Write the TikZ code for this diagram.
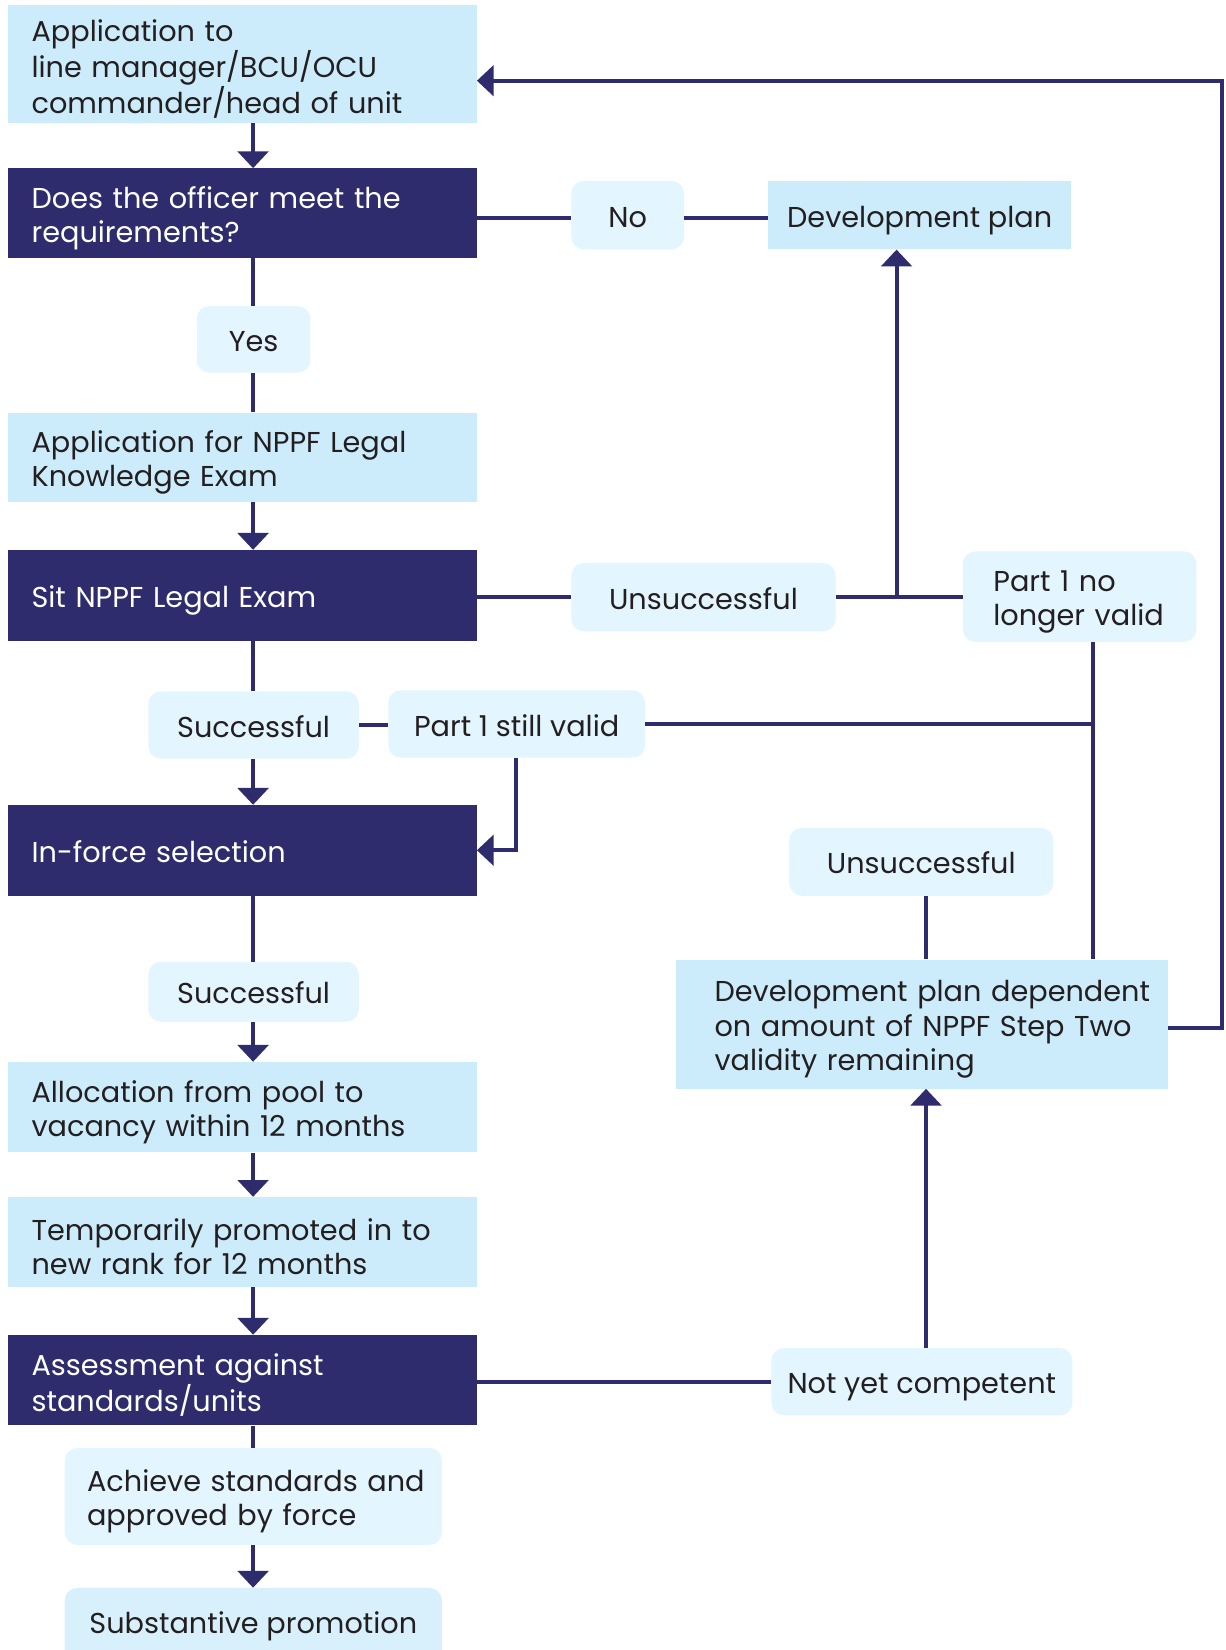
\documentclass[tikz,border=0pt]{standalone}
\usepackage{fontspec}
\setmainfont{Poppins}
\usetikzlibrary{arrows.meta}
\definecolor{navy}{HTML}{2F2C6E}
\definecolor{lblue}{HTML}{CCECFC}
\definecolor{pillc}{HTML}{E3F5FE}
\definecolor{pilld}{HTML}{D8F0FC}
\definecolor{txt}{HTML}{231F20}
\begin{document}
\begin{tikzpicture}[x=1pt,y=-1pt,
  every node/.style={font=\fontsize{27.3}{32.5}\selectfont, text=txt, inner ysep=0pt, inner xsep=0pt},
  one/.style={text height=23pt, text depth=0pt},
  multi/.style={text height=30pt},
  lbox/.style={rectangle, fill=lblue, align=left},
  lcol/.style={minimum width=445pt, text width=401pt},
  dbox/.style={rectangle, fill=navy, text=white, align=left, minimum width=445pt, text width=401pt},
  pillbox/.style={rectangle, rounded corners=12pt, fill=pillc, align=center},
  ln/.style={draw=navy, line width=3.8pt},
  arr/.style={ln, -{Triangle[width=29pt,length=16pt]}},
]
\useasboundingbox[fill=white] (0,0) rectangle (1165,1568);

% left column
\node[lbox, lcol, multi, minimum height=112pt] (n1) at (230.5,61) {Application to\\line manager/BCU/OCU\\commander/head of unit};
\node[dbox, multi, minimum height=85pt] (n2) at (230.5,202.5) {Does the officer meet the\\requirements?};
\node[pillbox, one, minimum width=108pt, minimum height=63pt] (yes) at (241,322.5) {Yes};
\node[lbox, lcol, multi, minimum height=85pt] (n3) at (230.5,434.5) {Application for NPPF Legal\\Knowledge Exam};
\node[dbox, one, minimum height=86pt] (n4) at (230.5,565.7) {Sit NPPF Legal Exam};
\node[pillbox, one, minimum width=200pt, minimum height=64pt] (suc1) at (241,689) {Successful};
\node[pillbox, one, minimum width=244pt, minimum height=64pt] (p1v) at (491,688) {Part 1 still valid};
\node[dbox, one, minimum height=86pt] (n5) at (230.5,808) {In-force selection};
\node[pillbox, one, minimum width=200pt, minimum height=57pt] (suc2) at (241,942.5) {Successful};
\node[lbox, lcol, multi, minimum height=86pt] (n6) at (230.5,1052.2) {Allocation from pool to\\vacancy within 12 months};
\node[lbox, lcol, multi, minimum height=85.5pt] (n7) at (230.5,1180.3) {Temporarily promoted in to\\new rank for 12 months};
\node[dbox, multi, minimum height=86pt] (n8) at (230.5,1311.6) {Assessment against\\standards/units};
\node[pillbox, multi, align=left, minimum width=358.5pt, text width=316pt, minimum height=92pt] (ach) at (240.75,1422) {\mbox{Achieve standards and}\\approved by force};
\node[pillbox, fill=pilld, text height=23pt, text depth=17pt, minimum width=358.5pt, minimum height=80pt] (sub) at (240.75,1549) {Substantive promotion};

% right side
\node[pillbox, one, minimum width=107pt, minimum height=65pt] (no) at (596.5,204.5) {No};
\node[lbox, one, align=center, minimum width=288pt, minimum height=65pt] (dp) at (874,204.5) {Development plan};
\node[pillbox, one, minimum width=251pt, minimum height=65pt] (uns1) at (668.5,567.5) {Unsuccessful};
\node[pillbox, multi, align=left, minimum width=222pt, text width=164pt, minimum height=86pt] (p1n) at (1026,567) {\mbox{Part 1 no}\\\mbox{longer valid}};
\node[pillbox, one, minimum width=251pt, minimum height=64.5pt] (uns2) at (875.5,819) {Unsuccessful};
\node[lbox, multi, minimum width=468pt, text width=394pt, minimum height=122.5pt] (dpd) at (876,973.25) {\mbox{Development plan dependent}\\\mbox{on amount of NPPF Step Two}\\validity remaining};
\node[pillbox, one, minimum width=286pt, minimum height=64pt] (nyc) at (876,1313) {Not yet competent};

% helper coordinates
\coordinate (sp) at (240.5,0);
\coordinate (jx) at (852,0);
\coordinate (vx) at (1038.6,0);
\coordinate (px) at (490,0);
\coordinate (cx) at (880,0);
\coordinate (lx) at (1161,0);
\coordinate (top) at ([yshift=-15.7pt]n1.east);
\coordinate (noy) at ([yshift=-3pt]no.west);

% main spine
\draw[arr] (n1.south -| sp) -- (n2.north -| sp);
\draw[ln] (n2.south -| sp) -- (yes.north -| sp);
\draw[ln] (yes.south -| sp) -- (n3.north -| sp);
\draw[arr] (n3.south -| sp) -- (n4.north -| sp);
\draw[ln] (n4.south -| sp) -- (suc1.north -| sp);
\draw[arr] (suc1.south -| sp) -- (n5.north -| sp);
\draw[ln] (suc1.east) -- (p1v.west |- suc1);
\draw[ln] (n5.south -| sp) -- (suc2.north -| sp);
\draw[arr] (suc2.south -| sp) -- (n6.north -| sp);
\draw[arr] (n6.south -| sp) -- (n7.north -| sp);
\draw[arr] (n7.south -| sp) -- (n8.north -| sp);
\draw[ln] (n8.south -| sp) -- (ach.north -| sp);
\draw[arr] (ach.south -| sp) -- (sub.north -| sp);

% branches
\draw[ln] (n2.east |- noy) -- (noy);
\draw[ln] (no.east |- noy) -- (dp.west |- noy);
\draw[ln] (n4.east |- uns1) -- (uns1.west);
\draw[ln] (uns1.east) -- (p1n.west |- uns1);
\draw[arr] (jx |- uns1) -- (jx |- dp.south);
\draw[ln] (p1n.south -| vx) -- (dpd.north -| vx);
\draw[ln] (p1v.east) -- (vx |- p1v);
\draw[arr] (p1v.south -| px) |- (n5.east);
\draw[ln] (uns2.south -| cx) -- (dpd.north -| cx);
\draw[ln] (n8.east |- nyc) -- (nyc.west);
\draw[arr] (nyc.north -| cx) -- (dpd.south -| cx);
\draw[arr] ([yshift=-4pt]dpd.east) -| (lx |- top) -- (top);
\end{tikzpicture}
\end{document}
